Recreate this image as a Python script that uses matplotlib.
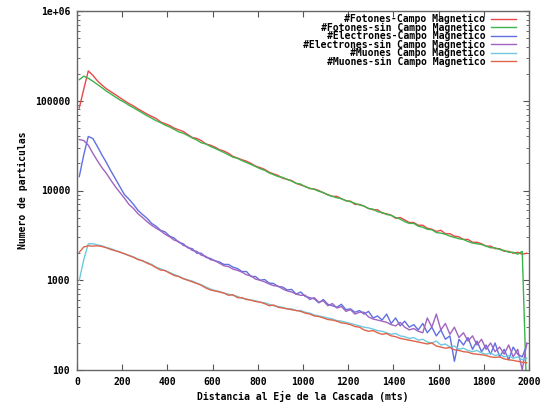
import matplotlib
matplotlib.use("Agg")
import matplotlib.pyplot as plt
from matplotlib.ticker import LogLocator, NullFormatter, FixedLocator, FixedFormatter

# distance bins (m)
dist = list(range(10, 2000, 20))

fot_campo = [83000, 135000, 215000, 192000, 167000, 150000, 136000, 126000, 117000, 108000,
             100000, 93000, 87500, 81000, 76000,
             71000, 67000, 63500, 58000, 55500, 53000, 49500, 47500, 45500, 42000,
             39000, 38000, 36000, 33000, 32000, 30500, 28500, 27500, 26000, 24000,
             23000, 22000, 21200, 20000, 18700, 18000, 17200, 16000, 15300, 14700,
             13700, 13300, 12900, 12000, 11500, 11100, 10500, 10400, 10000, 9400,
             9000, 8600, 8600, 8100, 7700, 7600, 7000, 7000, 6700, 6300,
             6100, 6100, 5600, 5500, 5300, 4900, 5000, 4700, 4400, 4400,
             4100, 4100, 3800, 3700, 3500, 3600, 3300, 3300, 3100, 3050,
             2850, 2850, 2650, 2650, 2550, 2400, 2400, 2250, 2250, 2100,
             2100, 2000, 2050, 1950, 2000]

fot_sin = [172000, 188000, 178000, 165000, 152000, 140000, 128000, 119000, 110000, 102000,
           96000, 89000, 83500, 78000, 73000,
           68000, 64000, 60000, 57000, 53500, 51000, 48000, 45000, 43500, 41000,
           38500, 36500, 34000, 33000, 31000, 29500, 28000, 26500, 25000, 23500,
           22800, 21500, 20500, 19500, 18500, 17500, 16800, 15700, 15000, 14300,
           14000, 13300, 12700, 12000, 11800, 11000, 10600, 10300, 9800, 9500,
           8900, 8600, 8300, 8100, 7700, 7500, 7200, 6900, 6700, 6300,
           6200, 5800, 5700, 5400, 5300, 5000, 4800, 4500, 4300, 4300,
           4000, 3900, 3700, 3650, 3400, 3350, 3250, 3100, 3000, 2900,
           2850, 2700, 2600, 2550, 2500, 2400, 2300, 2300, 2200, 2150,
           2050, 2050, 1950, 2100, 50]

ele_campo = [14300, 25000, 40000, 38000, 31000, 25000, 20500, 16500, 13500, 11000,
             9000, 8000, 7000, 6000, 5400,
             4900, 4300, 4000, 3600, 3450, 3100, 2950, 2650, 2550, 2300,
             2250, 2000, 2000, 1800, 1750, 1650, 1600, 1500, 1500, 1400,
             1350, 1250, 1250, 1100, 1100, 1000, 1020, 930, 920, 850,
             840, 780, 790, 700, 740,
             660, 640, 620, 560, 610, 540, 520, 500, 540, 470,
             480, 440, 460, 420, 450, 380, 400, 360, 420, 330,
             380, 310, 350, 300, 320, 280, 330, 260, 300, 240,
             280, 220, 240, 125, 220, 190, 230, 170, 210, 160,
             190, 150, 200, 140, 170, 130, 180, 150, 140, 190]

ele_sin = [37000, 36000, 32000, 26000, 21500, 18000, 15500, 13000, 11000, 9500,
           8200, 7000, 6300, 5500, 5000,
           4500, 4100, 3800, 3550, 3250, 3050, 2800, 2700, 2450, 2350,
           2150, 2100, 1900, 1850, 1700, 1650, 1550, 1450, 1420, 1330,
           1290, 1230, 1150, 1120, 1030, 1000, 960, 910, 870, 860,
           800, 760, 740, 700, 680,
           680, 610, 640, 570, 590, 520, 550, 490, 510, 450,
           470, 420, 440, 440, 390, 370, 360, 350, 340, 320,
           310, 340, 300, 280, 290, 270, 260, 380, 300, 420,
           280, 330, 250, 300, 230, 260, 210, 240, 190, 220,
           170, 200, 160, 180, 150, 190, 140, 170, 100, 200]

muo_campo = [1000, 1700, 2550, 2550, 2480, 2420, 2320, 2250, 2150, 2070,
             1960, 1900, 1820, 1720, 1640, 1580, 1500, 1400, 1340, 1280,
             1220, 1160, 1110, 1050, 1010, 980, 930, 890, 840, 800,
             770, 750, 720, 700, 680, 660, 630, 620, 600, 590,
             570, 560, 540, 520, 510, 500, 480, 480, 460, 460,
             440, 430, 410, 400, 390, 380, 370, 355, 350, 340,
             330, 320, 310, 300, 295, 285, 275, 270, 260, 250,
             255, 240, 235, 225, 230, 215, 220, 205, 200, 210,
             190, 195, 180, 185, 170, 175, 165, 160, 165, 155,
             150, 155, 145, 150, 140, 145, 135, 140, 130, 135]

muo_sin = [2050, 2350, 2420, 2400, 2420, 2380, 2300, 2200, 2130, 2050,
           1980, 1880, 1800, 1700, 1650, 1550, 1480, 1380, 1300, 1280,
           1200, 1130, 1100, 1040, 1000, 960, 920, 880, 820, 780,
           760, 740, 720, 680, 690, 640, 640, 610, 600, 580,
           570, 550, 520, 530, 500, 490, 480, 470, 460, 450,
           430, 420, 400, 395, 380, 365, 360, 350, 335, 330,
           320, 305, 300, 280, 270, 275, 260, 250, 255, 240,
           235, 225, 220, 215, 210, 205, 200, 195, 200, 185,
           180, 175, 178, 168, 165, 160, 158, 152, 150, 148,
           145, 140, 138, 140, 133, 130, 128, 125, 122, 120]

labels = ["#Fotones-Campo Magnetico", "#Fotones-sin Campo Magnetico",
          "#Electrones-Campo Magnetico", "#Electrones-sin Campo Magnetico",
          "#Muones Campo Magnetico", "#Muones-sin Campo Magnetico"]
colors = ["#e84848", "#3cb44c", "#6070e0", "#a064c0", "#70c8e0", "#e06448"]

xticks = [0, 200, 400, 600, 800, 1000, 1200, 1400, 1600, 1800, 2000]
yticks = [100, 1000, 10000, 100000, 1000000]
yticklabels = ["100", "1000", "10000", "100000", "1e+06"]

font = dict(family="DejaVu Sans Mono", weight="bold", size=7)

fig = plt.figure(figsize=(5.47, 4.08), dpi=100)
ax = fig.add_axes([77/547, 38/408, (529-77)/547, (370-11)/408])

series = [fot_campo, fot_sin, ele_campo, ele_sin, muo_campo, muo_sin]
for s, lab, c in zip(series, labels, colors):
    ax.plot(dist[:len(s)], s, color=c, lw=1.0, label=lab)

ax.set_yscale("log")
ax.set_xlim(0, 2000)
ax.set_ylim(100, 1e6)

ax.xaxis.set_major_locator(FixedLocator(xticks))
ax.set_xticklabels([str(t) for t in xticks], **font)
ax.yaxis.set_major_locator(FixedLocator(yticks))
ax.yaxis.set_major_formatter(FixedFormatter(yticklabels))
ax.yaxis.set_minor_locator(LogLocator(base=10, subs=range(2, 10)))
ax.yaxis.set_minor_formatter(NullFormatter())
for lbl in ax.get_yticklabels():
    lbl.set_fontfamily("DejaVu Sans Mono")
    lbl.set_fontweight("bold")
    lbl.set_fontsize(7)

ax.tick_params(which="both", direction="in", top=True, right=True, colors="#555555",
               labelcolor="black")
ax.tick_params(which="major", length=4, width=0.8, pad=5)
ax.tick_params(which="minor", length=2, width=0.6)
for sp in ax.spines.values():
    sp.set_color("#666666")
    sp.set_linewidth(1.0)

ax.set_xlabel("Distancia al Eje de la Cascada (mts)", labelpad=3, **font)
ax.set_ylabel("Numero de particulas", labelpad=5, **font)

leg = ax.legend(loc="upper right", bbox_to_anchor=(0.985, 1.008), frameon=False,
                markerfirst=False, prop=dict(family="DejaVu Sans Mono", weight="bold", size=7),
                handlelength=2.6, handletextpad=0.6, labelspacing=-0.15, borderpad=0.1)

fig.savefig("out.png", dpi=100)
